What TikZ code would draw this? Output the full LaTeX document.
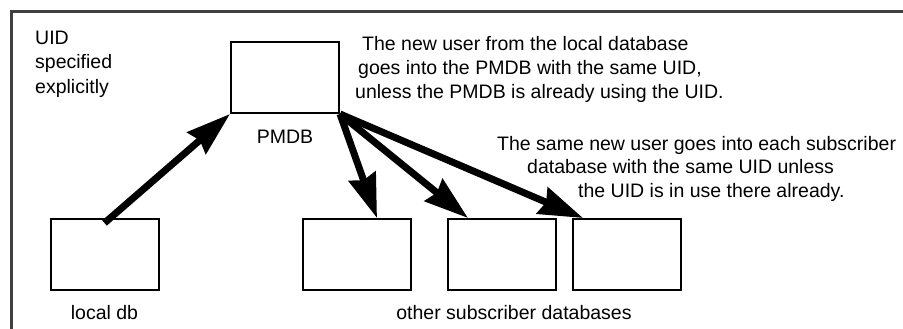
\documentclass[tikz,border=0pt]{standalone}
\usepackage{fontspec}
\setmainfont{Liberation Sans}
\usetikzlibrary{arrows.meta,calc}
\begin{document}
\begin{tikzpicture}[x=1pt,y=-1pt,
  dbbox/.style={draw=black,line width=2pt,inner sep=0pt,minimum width=108pt,minimum height=71pt},
  txt/.style={inner sep=0pt,font=\fontsize{19.5}{24}\selectfont},
  bigarrow/.style={line width=7pt,-{Stealth[length=44pt,width=28pt,inset=4pt]}},
  frameline/.style={draw=black!75,line width=3pt}]
\useasboundingbox (0,0) rectangle (903,329);
\fill[white] (0,0) rectangle (903,329);
% frame
\coordinate (fbl) at (11.5,329);
\coordinate (ftl) at (11.5,11.5);
\coordinate (ftr) at (903,11.5);
\draw[frameline] (fbl) -- (ftl) -- (ftr);
% boxes
\node[dbbox] (pmdb) at (285,77.5) {};
\node[dbbox] (local) at (104.5,254.5) {};
\node[dbbox] (s1) at (356.5,254.5) {};
\node[dbbox] (s2) at (501.5,254.5) {};
\node[dbbox] (s3) at (626.5,254.5) {};
% labels
\node[txt,anchor=base] (lpmdb) at (285,143) {PMDB};
\node[txt,anchor=base] (llocal) at (104.5,319) {local db};
\node[txt,anchor=base] (lsubs) at (514,319) {other subscriber databases};
% left note
\node[txt,anchor=base west] (u1) at (35,45) {UID};
\node[txt,anchor=base west] (u2) at (35,69) {specified};
\node[txt,anchor=base west] (u3) at (35,93) {explicitly};
% top note
\node[txt,anchor=base west] (t1) at (362,51) {The new user from the local database};
\node[txt,anchor=base west] (t2) at (358,75) {goes into the PMDB with the same UID,};
\node[txt,anchor=base west] (t3) at (355,99) {unless the PMDB is already using the UID.};
% right note
\node[txt,anchor=base west] (r1) at (497,150) {The same new user goes into each subscriber};
\node[txt,anchor=base west] (r2) at (527,173) {database with the same UID unless};
\node[txt,anchor=base west] (r3) at (578,197) {the UID is in use there already.};
% arrows
\draw[bigarrow] ([yshift=-5pt]local.north) -- (pmdb.south west);
\draw[bigarrow] (pmdb.south east) -- ([xshift=20.5pt]s1.north);
\draw[bigarrow] (pmdb.south east) -- ([xshift=-33.5pt]s2.north);
\draw[bigarrow] (pmdb.south east) -- ([xshift=-43.5pt]s3.north);
\end{tikzpicture}
\end{document}
